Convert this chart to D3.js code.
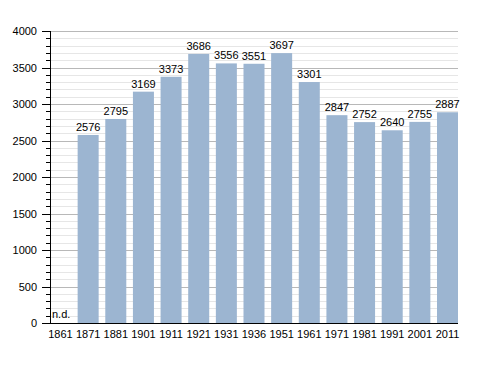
<!DOCTYPE html>
<html>
<head>
<meta charset="utf-8">
<script src="https://cdn.jsdelivr.net/npm/d3@7"></script>
<style>
body { margin: 0; background: #fff; }
text { font-family: "Liberation Sans", Arial, sans-serif; }
</style>
</head>
<body>
<svg id="chart" width="488" height="373"></svg>
<script>
// data
const years = ["1861", "1871", "1881", "1901", "1911", "1921", "1931", "1936", "1951", "1961", "1971", "1981", "1991", "2001", "2011"];
const population = [null, 2576, 2795, 3169, 3373, 3686, 3556, 3551, 3697, 3301, 2847, 2752, 2640, 2755, 2887];
const yTicks = [0, 500, 1000, 1500, 2000, 2500, 3000, 3500, 4000];

const svg = d3.select("#chart");
const plotLeft = 50, plotRight = 458, plotTop = 31, plotBottom = 323;

const x = d3.scaleBand()
    .domain(years)
    .range([plotLeft, plotRight])
    .paddingInner(0.24)
    .paddingOuter(0);

const y = d3.scaleLinear()
    .domain([0, 4000])
    .range([plotBottom, plotTop]);

// minor grid every 100
svg.selectAll("line.minor")
    .data(d3.range(100, 4001, 100).filter(v => v % 500 !== 0))
    .enter()
    .append("line")
    .attr("x1", plotLeft).attr("x2", plotRight)
    .attr("y1", d => Math.round(y(d)) + 0.5).attr("y2", d => Math.round(y(d)) + 0.5)
    .attr("stroke", "#e6e6e6");

// major grid every 500
svg.selectAll("line.major")
    .data(yTicks.filter(v => v > 0))
    .enter()
    .append("line")
    .attr("x1", plotLeft).attr("x2", plotRight)
    .attr("y1", d => Math.round(y(d)) + 0.5).attr("y2", d => Math.round(y(d)) + 0.5)
    .attr("stroke", "#b8b8b8");

// ticks on y axis (long at 500s, short every 100)
svg.selectAll("line.mtick")
    .data(d3.range(0, 4001, 100))
    .enter()
    .append("line")
    .attr("x1", d => d % 500 === 0 ? plotLeft - 8 : plotLeft - 4).attr("x2", plotLeft)
    .attr("y1", d => Math.round(y(d)) + 0.5).attr("y2", d => Math.round(y(d)) + 0.5)
    .attr("stroke", "#000");

// bars
const bars = years.map((yr, i) => ({ year: yr, value: population[i] })).filter(d => d.value != null);

svg.selectAll("rect.bar")
    .data(bars)
    .enter()
    .append("rect")
    .attr("x", d => x(d.year))
    .attr("y", d => y(d.value))
    .attr("width", x.bandwidth())
    .attr("height", d => y(0) - y(d.value))
    .attr("fill", "#9cb5d1");

// value labels
svg.selectAll("text.val")
    .data(bars)
    .enter()
    .append("text")
    .attr("x", d => x(d.year) + x.bandwidth() / 2)
    .attr("y", d => y(d.value) - 4)
    .attr("text-anchor", "middle")
    .attr("font-size", 11)
    .text(d => d.value);

// n.d. for missing year
svg.append("text")
    .attr("x", x(years[0]) + 2)
    .attr("y", y(0) - 5)
    .attr("font-size", 11)
    .text("n.d.");

// axis lines
svg.append("line")
    .attr("x1", plotLeft + 0.5).attr("x2", plotLeft + 0.5)
    .attr("y1", plotTop).attr("y2", plotBottom + 1)
    .attr("stroke", "#000");
svg.append("line")
    .attr("x1", plotLeft).attr("x2", plotRight)
    .attr("y1", plotBottom + 0.5).attr("y2", plotBottom + 0.5)
    .attr("stroke", "#000");

// y tick labels
svg.selectAll("text.ylab")
    .data(yTicks)
    .enter()
    .append("text")
    .attr("x", plotLeft - 13)
    .attr("y", d => y(d) + 4)
    .attr("text-anchor", "end")
    .attr("font-size", 11)
    .text(d => d);

// x labels
svg.selectAll("text.xlab")
    .data(years)
    .enter()
    .append("text")
    .attr("x", d => x(d) + x.bandwidth() / 2)
    .attr("y", plotBottom + 15)
    .attr("text-anchor", "middle")
    .attr("font-size", 11)
    .text(d => d);
</script>
</body>
</html>
